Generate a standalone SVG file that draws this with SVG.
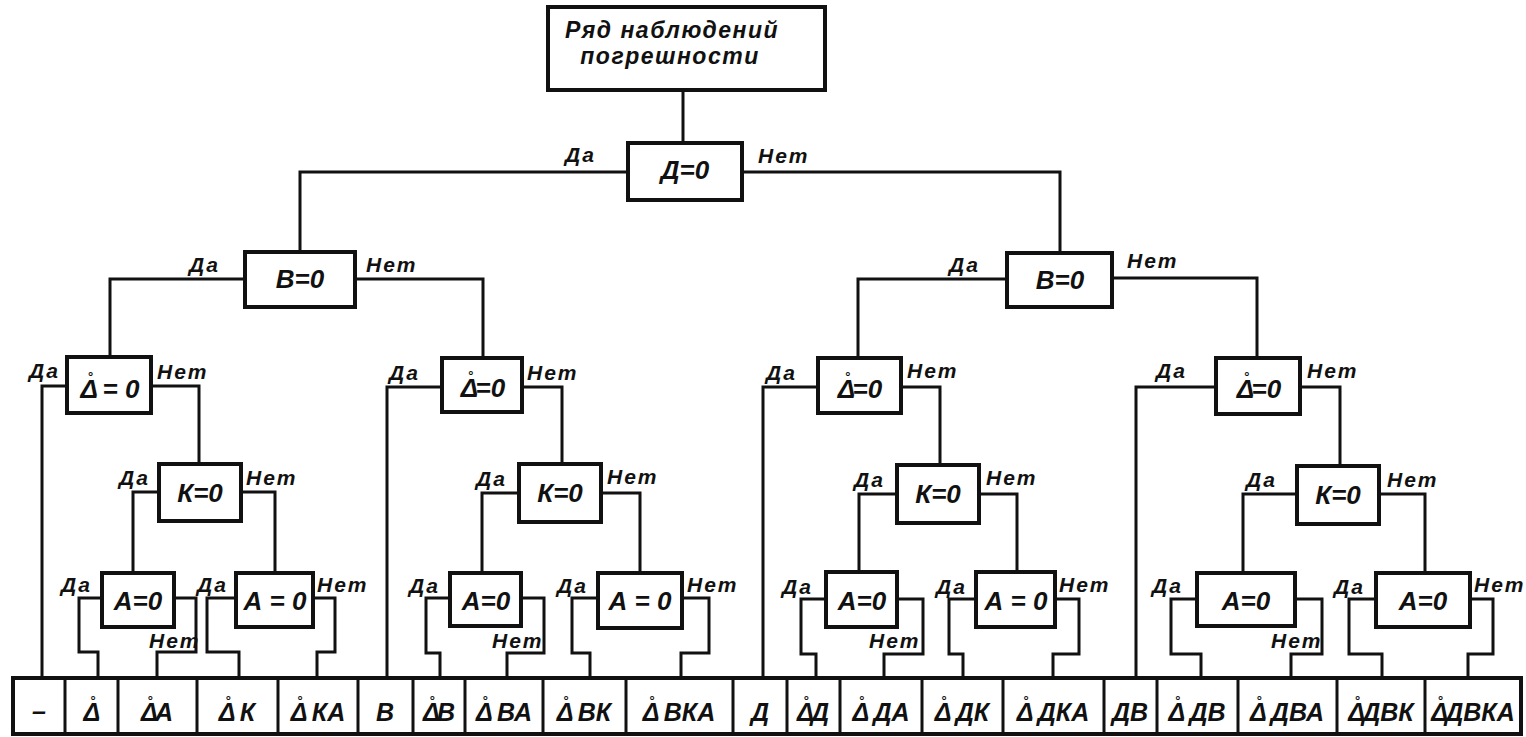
<svg xmlns="http://www.w3.org/2000/svg" width="1526" height="737" viewBox="0 0 1526 737">
<style>
.bg{fill:#fff}
.box{fill:#fff;stroke:#111;stroke-width:4}
.cell{fill:none;stroke:#111;stroke-width:3}
.con{fill:none;stroke:#111;stroke-width:3;stroke-linejoin:miter;stroke-linecap:square}
text{font-family:"Liberation Sans","DejaVu Sans",sans-serif;font-weight:bold;font-style:italic;fill:#111}
.t{font-size:26px;text-anchor:middle}
.lb{font-size:21px;letter-spacing:2px}
.c{font-size:25px;text-anchor:middle}
.r{font-size:13px;font-style:normal}
.hd{font-size:23px;text-anchor:middle;letter-spacing:1.5px}
</style>
<rect class="bg" x="0" y="0" width="1526" height="737"/>

<g id="connectors">
<path class="con" d="M683,90 V143"/>
<path class="con" d="M628,172 H300 V252"/>
<path class="con" d="M742,172 H1060 V253"/>
<path class="con" d="M245,279 H110 V357"/>
<path class="con" d="M355,279 H483 V358"/>
<path class="con" d="M1007,279 H858 V358"/>
<path class="con" d="M1112,278 H1257 V358"/>
<path class="con" d="M67,386 H42 V678"/>
<path class="con" d="M151,386 H199 V464"/>
<path class="con" d="M442,387 H387 V678"/>
<path class="con" d="M522,387 H562 V464"/>
<path class="con" d="M818,387 H763 V678"/>
<path class="con" d="M901,387 H940 V465"/>
<path class="con" d="M1216,387 H1136 V678"/>
<path class="con" d="M1300,387 H1340 V466"/>
<path class="con" d="M159,492 H133 V573"/>
<path class="con" d="M241,492 H275 V573"/>
<path class="con" d="M519,493 H482 V573"/>
<path class="con" d="M601,493 H640 V573"/>
<path class="con" d="M897,494 H859 V572"/>
<path class="con" d="M979,494 H1017 V572"/>
<path class="con" d="M1297,494 H1243 V573"/>
<path class="con" d="M1379,494 H1425 V573"/>
<path class="con" d="M102,598 H79 V652 H98 V678"/>
<path class="con" d="M174,598 H196 V652 H157 V678"/>
<path class="con" d="M236,598 H207 V652 H239 V678"/>
<path class="con" d="M313,598 H335 V652 H317 V678"/>
<path class="con" d="M450,598 H426 V653 H440 V678"/>
<path class="con" d="M521,598 H544 V653 H507 V678"/>
<path class="con" d="M598,598 H572 V653 H590 V678"/>
<path class="con" d="M682,598 H709 V653 H681 V678"/>
<path class="con" d="M826,599 H801 V654 H816 V678"/>
<path class="con" d="M897,599 H923 V654 H884 V678"/>
<path class="con" d="M976,599 H949 V654 H963 V678"/>
<path class="con" d="M1055,599 H1079 V654 H1053 V678"/>
<path class="con" d="M1197,599 H1171 V654 H1201 V678"/>
<path class="con" d="M1295,599 H1322 V654 H1291 V678"/>
<path class="con" d="M1376,599 H1349 V654 H1382 V678"/>
<path class="con" d="M1470,599 H1493 V654 H1468 V678"/>
</g>

<g id="labels">
<text class="lb" x="565" y="162">Да</text><text class="lb" x="758" y="163">Нет</text>
<text class="lb" x="189" y="272">Да</text><text class="lb" x="366" y="272">Нет</text>
<text class="lb" x="949" y="272">Да</text><text class="lb" x="1127" y="268">Нет</text>
<text class="lb" x="29" y="378">Да</text><text class="lb" x="157" y="379">Нет</text>
<text class="lb" x="389" y="380">Да</text><text class="lb" x="527" y="380">Нет</text>
<text class="lb" x="766" y="380">Да</text><text class="lb" x="907" y="378">Нет</text>
<text class="lb" x="1156" y="378">Да</text><text class="lb" x="1307" y="378">Нет</text>
<text class="lb" x="119" y="485">Да</text><text class="lb" x="246" y="485">Нет</text>
<text class="lb" x="476" y="486">Да</text><text class="lb" x="607" y="484">Нет</text>
<text class="lb" x="854" y="487">Да</text><text class="lb" x="986" y="485">Нет</text>
<text class="lb" x="1246" y="487">Да</text><text class="lb" x="1387" y="487">Нет</text>
<text class="lb" x="61" y="592">Да</text><text class="lb" x="149" y="648">Нет</text>
<text class="lb" x="197" y="592">Да</text><text class="lb" x="317" y="592">Нет</text>
<text class="lb" x="409" y="593">Да</text><text class="lb" x="492" y="648">Нет</text>
<text class="lb" x="557" y="593">Да</text><text class="lb" x="687" y="592">Нет</text>
<text class="lb" x="782" y="594">Да</text><text class="lb" x="869" y="648">Нет</text>
<text class="lb" x="936" y="594">Да</text><text class="lb" x="1059" y="592">Нет</text>
<text class="lb" x="1152" y="593">Да</text><text class="lb" x="1271" y="648">Нет</text>
<text class="lb" x="1334" y="594">Да</text><text class="lb" x="1474" y="592">Нет</text>
</g>

<g id="root"><rect class="box" x="548" y="7" width="277" height="83"/>
<text class="hd" x="672" y="38">Ряд наблюдений</text>
<text class="hd" x="670" y="64">погрешности</text></g>

<g id="d0"><rect class="box" x="628" y="143" width="114" height="57"/><text class="t" x="685" y="179">Д=0</text></g>
<g id="b0-left"><rect class="box" x="245" y="252" width="110" height="55"/><text class="t" x="300" y="288">В=0</text></g>
<g id="b0-right"><rect class="box" x="1007" y="253" width="105" height="54"/><text class="t" x="1060" y="289">В=0</text></g>

<g id="delta1"><rect class="box" x="67" y="357" width="84" height="56"/><text class="t" x="110" y="398">Δ<tspan class="r" dx="-10" dy="-17">°</tspan><tspan dx="2" dy="17"> = 0</tspan></text></g>
<g id="delta2"><rect class="box" x="442" y="358" width="80" height="54"/><text class="t" x="483" y="397">Δ<tspan class="r" dx="-10" dy="-17">°</tspan><tspan dx="2" dy="17">=0</tspan></text></g>
<g id="delta3"><rect class="box" x="818" y="358" width="83" height="55"/><text class="t" x="860" y="398">Δ<tspan class="r" dx="-10" dy="-17">°</tspan><tspan dx="2" dy="17">=0</tspan></text></g>
<g id="delta4"><rect class="box" x="1216" y="358" width="84" height="56"/><text class="t" x="1259" y="398">Δ<tspan class="r" dx="-10" dy="-17">°</tspan><tspan dx="2" dy="17">=0</tspan></text></g>

<g id="k1"><rect class="box" x="159" y="464" width="82" height="57"/><text class="t" x="200" y="502">К=0</text></g>
<g id="k2"><rect class="box" x="519" y="464" width="82" height="58"/><text class="t" x="560" y="502">К=0</text></g>
<g id="k3"><rect class="box" x="897" y="465" width="82" height="58"/><text class="t" x="938" y="503">К=0</text></g>
<g id="k4"><rect class="box" x="1297" y="466" width="82" height="58"/><text class="t" x="1338" y="504">К=0</text></g>

<g id="a1"><rect class="box" x="102" y="573" width="72" height="54"/><text class="t" x="138" y="610">А=0</text></g>
<g id="a2"><rect class="box" x="236" y="573" width="77" height="54"/><text class="t" x="275" y="610">А = 0</text></g>
<g id="a3"><rect class="box" x="450" y="573" width="71" height="53"/><text class="t" x="486" y="610">А=0</text></g>
<g id="a4"><rect class="box" x="598" y="573" width="84" height="55"/><text class="t" x="640" y="610">А = 0</text></g>
<g id="a5"><rect class="box" x="826" y="572" width="71" height="55"/><text class="t" x="862" y="610">А=0</text></g>
<g id="a6"><rect class="box" x="976" y="572" width="79" height="55"/><text class="t" x="1016" y="610">А = 0</text></g>
<g id="a7"><rect class="box" x="1197" y="573" width="98" height="53"/><text class="t" x="1246" y="610">А=0</text></g>
<g id="a8"><rect class="box" x="1376" y="573" width="94" height="54"/><text class="t" x="1423" y="610">А=0</text></g>

<g id="results">
<rect class="box" x="13" y="678" width="1508" height="56"/>
<path class="cell" d="M65,678V734M118,678V734M197,678V734M278,678V734M358,678V734M413,678V734M465,678V734M543,678V734M626,678V734M733,678V734M787,678V734M840,678V734M922,678V734M1003,678V734M1104,678V734M1157,678V734M1238,678V734M1337,678V734M1425,678V734"/>
<text class="c" x="39" y="720">–</text>
<text class="c" x="92" y="721">Δ<tspan class="r" dx="-10" dy="-16">°</tspan><tspan dx="2" dy="16"></tspan></text>
<text class="c" x="157" y="721">Δ<tspan class="r" dx="-10" dy="-16">°</tspan><tspan dx="2" dy="16">А</tspan></text>
<text class="c" x="237" y="721">Δ<tspan class="r" dx="-10" dy="-16">°</tspan><tspan dx="2" dy="16"> К</tspan></text>
<text class="c" x="318" y="721">Δ<tspan class="r" dx="-10" dy="-16">°</tspan><tspan dx="2" dy="16"> КА</tspan></text>
<text class="c" x="385" y="721">В</text>
<text class="c" x="439" y="721">Δ<tspan class="r" dx="-10" dy="-16">°</tspan><tspan dx="2" dy="16">В</tspan></text>
<text class="c" x="504" y="721">Δ<tspan class="r" dx="-10" dy="-16">°</tspan><tspan dx="2" dy="16"> ВА</tspan></text>
<text class="c" x="584" y="721">Δ<tspan class="r" dx="-10" dy="-16">°</tspan><tspan dx="2" dy="16"> ВК</tspan></text>
<text class="c" x="679" y="721">Δ<tspan class="r" dx="-10" dy="-16">°</tspan><tspan dx="2" dy="16"> ВКА</tspan></text>
<text class="c" x="760" y="721">Д</text>
<text class="c" x="813" y="721">Δ<tspan class="r" dx="-10" dy="-16">°</tspan><tspan dx="2" dy="16">Д</tspan></text>
<text class="c" x="881" y="721">Δ<tspan class="r" dx="-10" dy="-16">°</tspan><tspan dx="2" dy="16"> ДА</tspan></text>
<text class="c" x="962" y="721">Δ<tspan class="r" dx="-10" dy="-16">°</tspan><tspan dx="2" dy="16"> ДК</tspan></text>
<text class="c" x="1053" y="721">Δ<tspan class="r" dx="-10" dy="-16">°</tspan><tspan dx="2" dy="16"> ДКА</tspan></text>
<text class="c" x="1130" y="721">ДВ</text>
<text class="c" x="1197" y="721">Δ<tspan class="r" dx="-10" dy="-16">°</tspan><tspan dx="2" dy="16"> ДВ</tspan></text>
<text class="c" x="1287" y="721">Δ<tspan class="r" dx="-10" dy="-16">°</tspan><tspan dx="2" dy="16"> ДВА</tspan></text>
<text class="c" x="1381" y="721">Δ<tspan class="r" dx="-10" dy="-16">°</tspan><tspan dx="2" dy="16">ДВК</tspan></text>
<text class="c" x="1473" y="721">Δ<tspan class="r" dx="-10" dy="-16">°</tspan><tspan dx="2" dy="16">ДВКА</tspan></text>
</g>
</svg>
